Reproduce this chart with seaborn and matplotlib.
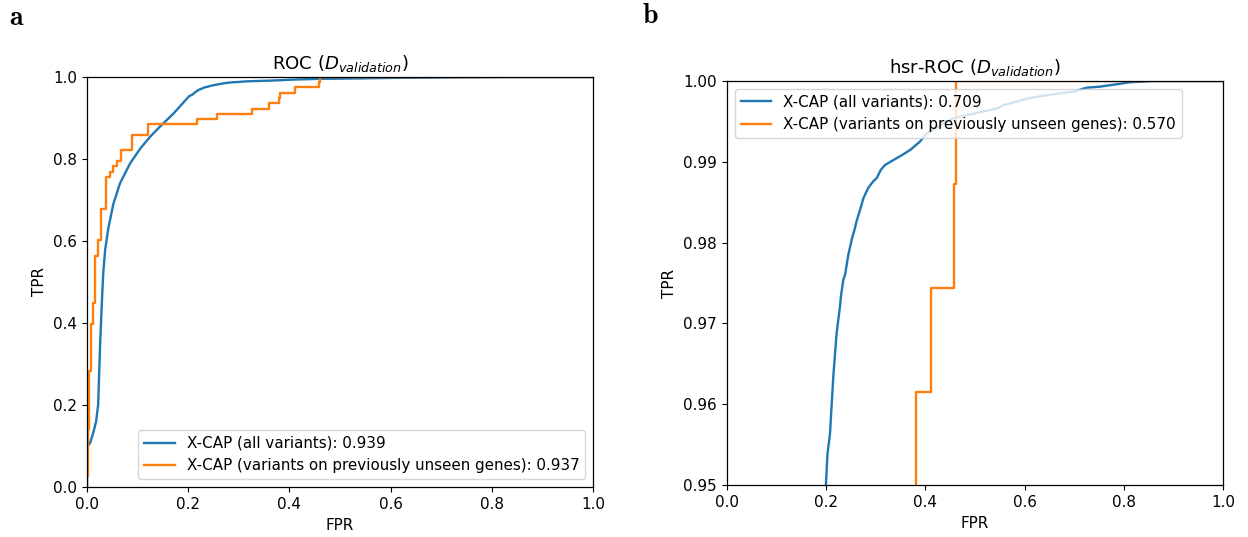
import numpy as np
import pandas as pd
import matplotlib
matplotlib.use("Agg")
import matplotlib.pyplot as plt
import seaborn as sns

# ---------------- data ----------------
series_names = ["X-CAP (all variants)", "X-CAP (variants on previously unseen genes)"]
auc_roc = [0.939, 0.937]
auc_hsr = [0.709, 0.570]

fpr_all = [0.0, 0.0, 0.006, 0.013, 0.018, 0.022, 0.026, 0.029, 0.032, 0.036, 0.042, 0.052,
           0.065, 0.085, 0.105, 0.1245, 0.145, 0.171, 0.19, 0.1996, 0.2025, 0.2077, 0.2143,
           0.2165, 0.221, 0.2278, 0.2300, 0.2345, 0.238, 0.2446, 0.252, 0.258, 0.261, 0.268,
           0.275, 0.285, 0.295, 0.302, 0.31, 0.3185, 0.335, 0.352, 0.37, 0.389, 0.4026, 0.43,
           0.456, 0.50, 0.544, 0.557, 0.611, 0.651, 0.70, 0.725, 0.752, 0.8125, 0.859, 1.0]
tpr_all = [0.0, 0.098, 0.107, 0.135, 0.16, 0.20, 0.35, 0.44, 0.52, 0.58, 0.63, 0.69,
           0.74, 0.789, 0.825, 0.854, 0.88, 0.911, 0.937, 0.9502, 0.9538, 0.9564, 0.9634,
           0.9652, 0.9688, 0.9721, 0.9735, 0.9754, 0.976, 0.9785, 0.9805, 0.9818, 0.9826, 0.984,
           0.9855, 0.9868, 0.9876, 0.988, 0.989, 0.9896, 0.9902, 0.9908, 0.9915, 0.9925, 0.9935, 0.9945,
           0.9954, 0.996, 0.9966, 0.997, 0.9979, 0.9983, 0.9987, 0.99917, 0.9993, 0.99984, 1.0, 1.0]

fpr_unseen = [0.0, 0.0, 0.0026, 0.0026, 0.0046, 0.0046, 0.008, 0.008, 0.011, 0.011,
              0.016, 0.016, 0.022, 0.022, 0.028, 0.028, 0.038, 0.038, 0.045, 0.045,
              0.052, 0.052, 0.060, 0.060, 0.068, 0.068, 0.088, 0.088, 0.121, 0.121,
              0.218, 0.218, 0.256, 0.256, 0.327, 0.327, 0.360, 0.360, 0.379, 0.379,
              0.381, 0.381, 0.411, 0.411, 0.458, 0.458, 0.461, 0.461, 1.0]
tpr_unseen = [0.0, 0.026, 0.026, 0.141, 0.141, 0.282, 0.282, 0.397, 0.397, 0.449,
              0.449, 0.564, 0.564, 0.603, 0.603, 0.679, 0.679, 0.756, 0.756, 0.769,
              0.769, 0.782, 0.782, 0.795, 0.795, 0.821, 0.821, 0.859, 0.859, 0.885,
              0.885, 0.897, 0.897, 0.910, 0.910, 0.923, 0.923, 0.936, 0.936, 0.949,
              0.949, 0.9615, 0.9615, 0.9744, 0.9744, 0.9872, 0.9872, 1.0, 1.0]

x_ticks = [0.0, 0.2, 0.4, 0.6, 0.8, 1.0]
y_ticks_roc = [0.0, 0.2, 0.4, 0.6, 0.8, 1.0]
y_ticks_hsr = [0.95, 0.96, 0.97, 0.98, 0.99, 1.00]

# ---------------- plot ----------------
plt.rcParams["mathtext.fontset"] = "dejavusans"
plt.rcParams["font.size"] = 10.9
plt.rcParams["xtick.major.size"] = 3.8
plt.rcParams["ytick.major.size"] = 3.8
plt.rcParams["axes.linewidth"] = 0.9
colors = ["#1f77b4", "#ff7f0e"]

fig = plt.figure(figsize=(12.48, 5.37), dpi=100)
ax1 = fig.add_axes([87/1248, 1-487/537, (593-87)/1248, (487-77)/537])
ax2 = fig.add_axes([727/1248, 1-485/537, (1223-727)/1248, (485-81)/537])

curves = [(fpr_all, tpr_all), (fpr_unseen, tpr_unseen)]

for ax, aucs, title in [(ax1, auc_roc, r"ROC ($D_{validation}$)"),
                        (ax2, auc_hsr, r"hsr-ROC ($D_{validation}$)")]:
    for i, (fx, ty) in enumerate(curves):
        df = pd.DataFrame({"FPR": fx, "TPR": ty})
        sns.lineplot(data=df, x="FPR", y="TPR", ax=ax, estimator=None, sort=False,
                     color=colors[i], linewidth=1.7,
                     label=f"{series_names[i]}: {aucs[i]:.3f}")
    ax.set_title(title, fontsize=13.1)
    ax.set_xlabel("FPR")
    ax.set_ylabel("TPR")
    ax.set_xlim(0, 1)
    ax.set_xticks(x_ticks)

ax1.set_ylim(0, 1)
ax1.set_yticks(y_ticks_roc)
ax2.set_ylim(0.95, 1.0)
ax2.set_yticks(y_ticks_hsr)
ax2.set_yticklabels([f"{v:.2f}" for v in y_ticks_hsr])

ax1.legend(loc="lower right", fontsize=10.9)
ax2.legend(loc="upper left", fontsize=10.9)

fig.text(17/1248, 1-17/537, r"$\mathbf{a}$", fontsize=20, math_fontfamily="cm",
         ha="center", va="center")
fig.text(650/1248, 1-15/537, r"$\mathbf{b}$", fontsize=20, math_fontfamily="cm",
         ha="center", va="center")

fig.savefig("out.png", dpi=100)
